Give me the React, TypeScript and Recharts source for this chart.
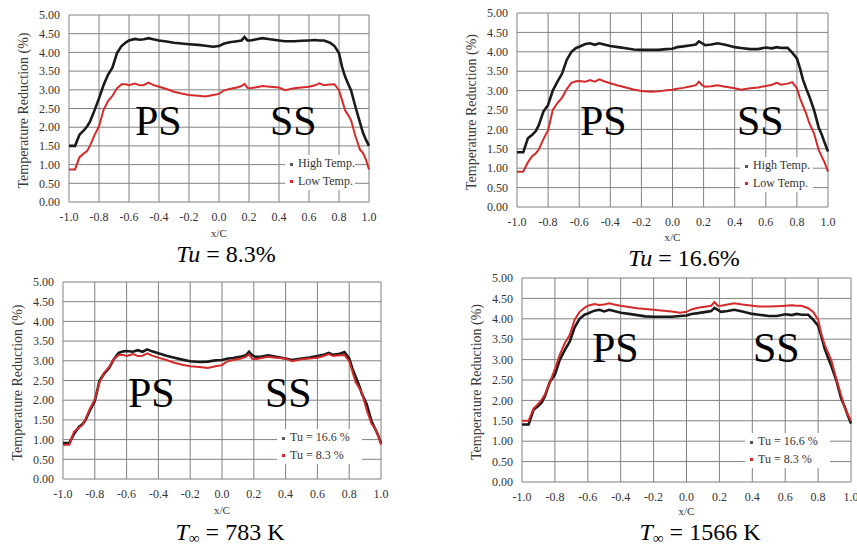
import React from "react";
import { LineChart, Line, XAxis, YAxis, CartesianGrid, Legend, Label } from "recharts";

// chordwise position x/C (PS negative, SS positive)
const xOverC = [
	-1.0, -0.96, -0.93, -0.9, -0.88, -0.86, -0.83, -0.8, -0.77, -0.74,
	-0.71, -0.68, -0.65, -0.62, -0.6, -0.56, -0.53, -0.5, -0.47, -0.44,
	-0.4, -0.35, -0.3, -0.25, -0.2, -0.14, -0.09, -0.04, 0.0, 0.03,
	0.07, 0.12, 0.15, 0.17, 0.19, 0.21, 0.25, 0.29, 0.34, 0.4,
	0.44, 0.5, 0.55, 0.6, 0.64, 0.67, 0.7, 0.74, 0.77, 0.8,
	0.82, 0.84, 0.86, 0.88, 0.91, 0.94, 0.96, 0.98, 1.0,
];

// temperature reduction (%) — high temp (1566 K), Tu = 8.3%
const highTempTu83 = [
	1.5, 1.5, 1.8, 1.92, 2.02, 2.15, 2.45, 2.77, 3.12, 3.4,
	3.6, 3.98, 4.17, 4.27, 4.32, 4.36, 4.34, 4.35, 4.38, 4.35,
	4.32, 4.29, 4.26, 4.24, 4.22, 4.2, 4.18, 4.15, 4.17, 4.23,
	4.27, 4.3, 4.32, 4.41, 4.32, 4.32, 4.35, 4.38, 4.35, 4.32,
	4.3, 4.3, 4.31, 4.32, 4.33, 4.32, 4.32, 4.26, 4.17, 3.98,
	3.62, 3.36, 3.17, 2.99, 2.54, 2.12, 1.85, 1.66, 1.5,
];

// low temp (783 K), Tu = 8.3%
const lowTempTu83 = [
	0.87, 0.87, 1.2, 1.3, 1.36, 1.5, 1.79, 2.02, 2.46, 2.7,
	2.84, 3.04, 3.15, 3.15, 3.12, 3.17, 3.12, 3.13, 3.19, 3.13,
	3.08, 3.02, 2.95, 2.9, 2.86, 2.84, 2.82, 2.86, 2.89, 2.98,
	3.02, 3.06, 3.1, 3.16, 3.05, 3.04, 3.07, 3.1, 3.08, 3.06,
	2.99, 3.04, 3.06, 3.08, 3.12, 3.17, 3.12, 3.14, 3.15, 2.99,
	2.73, 2.46, 2.33, 2.19, 1.75, 1.4, 1.31, 1.13, 0.87,
];

// high temp, Tu = 16.6%
const highTempTu166 = [
	1.41, 1.41, 1.77, 1.87, 1.95, 2.11, 2.46, 2.63, 3.0, 3.23,
	3.44, 3.79, 4.0, 4.1, 4.13, 4.2, 4.22, 4.18, 4.22, 4.19,
	4.15, 4.12, 4.09, 4.06, 4.05, 4.05, 4.05, 4.07, 4.08, 4.12,
	4.14, 4.17, 4.19, 4.27, 4.22, 4.17, 4.19, 4.22, 4.18, 4.12,
	4.1, 4.07, 4.07, 4.11, 4.09, 4.12, 4.1, 4.1, 3.98, 3.83,
	3.57, 3.27, 3.05, 2.85, 2.5, 2.05, 1.86, 1.64, 1.43,
];

// low temp, Tu = 16.6%
const lowTempTu166 = [
	0.91, 0.91, 1.15, 1.32, 1.38, 1.48, 1.75, 1.98, 2.5, 2.68,
	2.82, 3.04, 3.2, 3.24, 3.25, 3.23, 3.27, 3.23, 3.29, 3.24,
	3.19, 3.13, 3.08, 3.03, 2.99, 2.97, 2.98, 3.01, 3.02, 3.05,
	3.07, 3.11, 3.14, 3.23, 3.14, 3.1, 3.11, 3.14, 3.1, 3.06,
	3.02, 3.06, 3.08, 3.12, 3.15, 3.2, 3.15, 3.18, 3.22, 3.06,
	2.8, 2.6, 2.4, 2.16, 1.9, 1.47, 1.3, 1.13, 0.91,
];

const xTicks = [-1.0, -0.8, -0.6, -0.4, -0.2, 0.0, 0.2, 0.4, 0.6, 0.8, 1.0];
const yTicks = [0, 0.5, 1.0, 1.5, 2.0, 2.5, 3.0, 3.5, 4.0, 4.5, 5.0];

const rows = xOverC.map((x, i) => ({
	x,
	hi83: highTempTu83[i],
	lo83: lowTempTu83[i],
	hi166: highTempTu166[i],
	lo166: lowTempTu166[i],
}));

const SERIF = '"Liberation Serif", "Times New Roman", serif';
const BLACK = "#1a1a1a";
const RED = "#d42a2a";
const AXIS_W = 70;
const TOP_PAD = 10;
const X_AXIS_H = 45;

interface SeriesDef {
	key: string;
	name: string;
	color: string;
	width: number;
}

interface PanelDef {
	plot: { l: number; t: number; r: number; b: number };
	series: SeriesDef[];
	legend: { l: number; t: number; w: number };
	ps: number;
	ss: number;
	labelBase: number;
	xLabelDy: number;
	caption: { cx: number; base: number; kind: "tu" | "temp"; value: string };
}

const panels: PanelDef[] = [
	{
		plot: { l: 69, t: 15, r: 369, b: 202 },
		series: [
			{ key: "hi83", name: "High Temp.", color: BLACK, width: 2.6 },
			{ key: "lo83", name: "Low Temp.", color: RED, width: 2 },
		],
		legend: { l: 285, t: 155, w: 70 },
		ps: 135,
		ss: 270,
		labelBase: 135,
		xLabelDy: 31,
		caption: { cx: 226, base: 262, kind: "tu", value: "8.3%" },
	},
	{
		plot: { l: 517, t: 13, r: 828, b: 207 },
		series: [
			{ key: "hi166", name: "High Temp.", color: BLACK, width: 2.6 },
			{ key: "lo166", name: "Low Temp.", color: RED, width: 2 },
		],
		legend: { l: 740, t: 157, w: 73 },
		ps: 580,
		ss: 737,
		labelBase: 135,
		xLabelDy: 29.5,
		caption: { cx: 684, base: 266, kind: "tu", value: "16.6%" },
	},
	{
		plot: { l: 63, t: 282, r: 381, b: 479 },
		series: [
			{ key: "lo166", name: "Tu = 16.6 %", color: BLACK, width: 2.6 },
			{ key: "lo83", name: "Tu = 8.3 %", color: RED, width: 2 },
		],
		legend: { l: 277, t: 429, w: 85 },
		ps: 128,
		ss: 265,
		labelBase: 407,
		xLabelDy: 31,
		caption: { cx: 230, base: 540, kind: "temp", value: "783 K" },
	},
	{
		plot: { l: 522, t: 278, r: 851, b: 482 },
		series: [
			{ key: "hi166", name: "Tu = 16.6 %", color: BLACK, width: 2.6 },
			{ key: "hi83", name: "Tu = 8.3 %", color: RED, width: 2 },
		],
		legend: { l: 745, t: 433, w: 85 },
		ps: 592,
		ss: 753,
		labelBase: 362,
		xLabelDy: 29,
		caption: { cx: 700, base: 540, kind: "temp", value: "1566 K" },
	},
];

const yLabel = (props: any) => {
	const vb = props.viewBox || { x: 0, y: TOP_PAD, width: AXIS_W, height: 190 };
	const cx = vb.x + vb.width - 46;
	const cy = vb.y + vb.height / 2 + 2;
	return (
		<text
			x={cx}
			y={cy}
			transform={`rotate(-90, ${cx}, ${cy})`}
			textAnchor="middle"
			dominantBaseline="central"
			fontSize={14}
			fill="#3a3a3a"
			fontFamily={SERIF}
		>
			Temperature Reduction (%)
		</text>
	);
};

const makeXLabel = (dy: number) => (props: any) => {
	const vb = props.viewBox || { x: AXIS_W, y: 200, width: 300, height: X_AXIS_H };
	return (
		<text
			x={vb.x + vb.width / 2}
			y={vb.y + dy}
			textAnchor="middle"
			dominantBaseline="central"
			fontSize={11}
			fill="#333"
			fontFamily={SERIF}
		>
			x/C
		</text>
	);
};

const LegendBox = ({ series, width }: { series: SeriesDef[]; width: number }) => (
	<div style={{ background: "#fff", width, fontFamily: SERIF, fontSize: 12, color: "#333" }}>
		{series.map((s) => (
			<div key={s.name} style={{ height: 17.5, lineHeight: "17.5px", whiteSpace: "nowrap" }}>
				<span
					style={{
						display: "inline-block",
						width: 3,
						height: 3,
						marginLeft: 5,
						marginRight: 5,
						verticalAlign: "middle",
						background: s.color === BLACK ? "#555" : s.color,
					}}
				/>
				{s.name}
			</div>
		))}
	</div>
);

const Panel = ({ p }: { p: PanelDef }) => {
	const plotW = p.plot.r - p.plot.l;
	const plotH = p.plot.b - p.plot.t;
	const left = p.plot.l - AXIS_W;
	const top = p.plot.t - TOP_PAD;
	const tickStyle = { fontSize: 12, fill: "#333", fontFamily: SERIF };
	return (
		<div style={{ position: "absolute", left, top }}>
			<LineChart
				width={plotW + AXIS_W + 10}
				height={plotH + TOP_PAD + X_AXIS_H}
				data={rows}
				margin={{ top: TOP_PAD, right: 10, left: 0, bottom: 0 }}
			>
				<CartesianGrid stroke="#808080" strokeWidth={1} />
				<XAxis
					type="number"
					dataKey="x"
					domain={[-1, 1]}
					ticks={xTicks}
					interval={0}
					tickFormatter={(v: number) => v.toFixed(1)}
					tick={tickStyle}
					tickLine={false}
					axisLine={false}
					tickSize={0}
					tickMargin={10}
					height={X_AXIS_H}
				>
					<Label content={makeXLabel(p.xLabelDy)} />
				</XAxis>
				<YAxis
					type="number"
					domain={[0, 5]}
					ticks={yTicks}
					interval={0}
					tickFormatter={(v: number) => v.toFixed(2)}
					tick={tickStyle}
					tickLine={false}
					axisLine={false}
					tickSize={0}
					tickMargin={9}
					width={AXIS_W}
				>
					<Label content={yLabel} />
				</YAxis>
				<Legend
					layout="vertical"
					align="center"
					verticalAlign="middle"
					wrapperStyle={{ left: p.legend.l - left, top: p.legend.t - top, width: p.legend.w }}
					content={() => <LegendBox series={p.series} width={p.legend.w} />}
				/>
				{p.series.map((s) => (
					<Line
						key={s.key}
						type="linear"
						dataKey={s.key}
						name={s.name}
						stroke={s.color}
						strokeWidth={s.width}
						dot={false}
						isAnimationActive={false}
					/>
				))}
			</LineChart>
		</div>
	);
};

const Caption = ({ p }: { p: PanelDef }) => {
	const c = p.caption;
	return (
		<div
			style={{
				position: "absolute",
				left: c.cx - 100,
				top: c.base - 17,
				width: 200,
				textAlign: "center",
				fontFamily: SERIF,
				fontSize: 24,
				lineHeight: "18px",
				color: "#000",
			}}
		>
			{c.kind === "tu" ? (
				<>
					<i>Tu</i> = {c.value}
				</>
			) : (
				<>
					<i>T</i>
					<span style={{ fontSize: 15, position: "relative", top: 3 }}>∞</span> = {c.value}
				</>
			)}
		</div>
	);
};

const SideLabel = ({ x, base, text }: { x: number; base: number; text: string }) => (
	<div
		style={{
			position: "absolute",
			left: x,
			top: base - 35,
			fontFamily: SERIF,
			fontSize: 42,
			lineHeight: "42px",
			color: "#000",
			whiteSpace: "nowrap",
		}}
	>
		{text}
	</div>
);

export default function App() {
	return (
		<div
			style={{
				position: "absolute",
				left: 0,
				top: 0,
				width: 857,
				height: 548,
				overflow: "hidden",
				background: "#fff",
			}}
		>
			{panels.map((p, i) => (
				<Panel key={i} p={p} />
			))}
			{panels.map((p, i) => (
				<React.Fragment key={"o" + i}>
					<SideLabel x={p.ps} base={p.labelBase} text="PS" />
					<SideLabel x={p.ss} base={p.labelBase} text="SS" />
					<Caption p={p} />
				</React.Fragment>
			))}
		</div>
	);
}
